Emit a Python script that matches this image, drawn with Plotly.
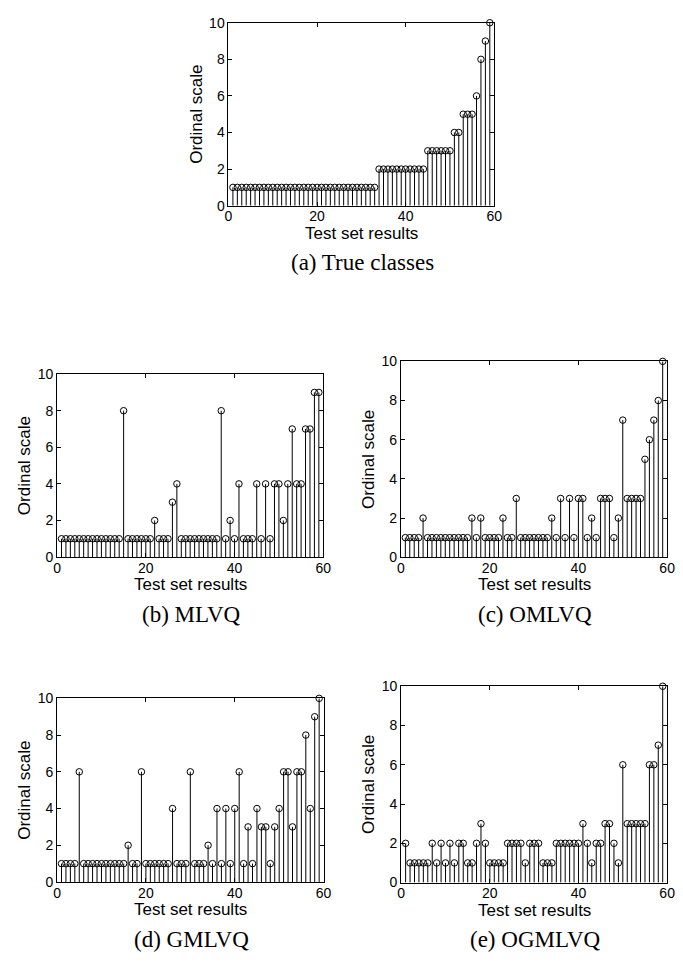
import plotly.graph_objects as go

W, H = 683, 966

x_idx = list(range(1, 60))

true_classes = [1]*33 + [2]*11 + [3]*6 + [4, 4, 5, 5, 5, 6, 8, 9, 10]

mlvq = ([1]*14 + [8] + [1]*6 + [2] + [1]*3 + [3, 4] + [1]*9 + [8] +
        [1, 2, 1, 4, 1, 1, 1, 4, 1, 4, 1, 4, 4, 2, 4, 7, 4, 4, 7, 7, 9, 9])

omlvq = ([1, 1, 1, 1, 2] + [1]*10 + [2, 1, 2] + [1]*4 + [2, 1, 1, 3] + [1]*7 +
         [2, 1, 3, 1, 3, 1, 3, 3, 1, 2, 1, 3, 3, 3, 1, 2, 7, 3, 3, 3, 3, 5, 6, 7, 8, 10])

gmlvq = ([1, 1, 1, 1, 6] + [1]*10 + [2, 1, 1, 6] + [1]*6 + [4, 1, 1, 1, 6, 1, 1, 1, 2, 1,
         4, 1, 4, 1, 4, 6, 1, 3, 1, 4, 3, 3, 1, 3, 4, 6, 6, 3, 6, 6, 8, 4, 9, 10])

ogmlvq = ([2, 1, 1, 1, 1, 1, 2, 1, 2, 1, 2, 1, 2, 2, 1, 1, 2, 3, 2, 1, 1, 1, 1, 2, 2, 2, 2, 1,
          2, 2, 2, 1, 1, 1, 2, 2, 2, 2, 2, 2, 3, 2, 1, 2, 2, 3, 3, 2, 1, 6, 3, 3, 3, 3, 3,
          6, 6, 7, 10])

x_ticks = [0, 20, 40, 60]
y_ticks = [0, 2, 4, 6, 8, 10]
x_title = "Test set results"
y_title = "Ordinal scale"

panels = [
    # (values, caption, left, right, top, bottom)
    (true_classes, "(a) True classes", 228.5, 499, 15, 201),
    (mlvq, "(b) MLVQ", 54, 325, 372.3, 558.3),
    (omlvq, "(c) OMLVQ", 404, 675, 359.3, 558.5),
    (gmlvq, "(d) GMLVQ", 54, 325.3, 702, 888.7),
    (ogmlvq, "(e) OGMLVQ", 404.3, 675, 689.7, 889.3),
]

fig = go.Figure()
sans = "Liberation Sans, Arial, sans-serif"
tick_font = dict(family=sans, size=14, color="black")
title_font = dict(family=sans, size=17, color="black")
cap_font = dict(family="Liberation Serif, Times New Roman, serif", size=23, color="black")

for i, (vals, cap, l, r, t, b) in enumerate(panels):
    n = i + 1
    xa = "x" if n == 1 else f"x{n}"
    ya = "y" if n == 1 else f"y{n}"
    fig.add_trace(go.Scatter(
        x=x_idx, y=vals, mode="markers", xaxis=xa, yaxis=ya,
        marker=dict(symbol="circle-open", size=6.5, color="black", line=dict(width=1, color="black")),
        error_y=dict(type="data", symmetric=False, array=[0]*len(vals), arrayminus=vals,
                     width=0, thickness=1, color="black"),
        showlegend=False, hoverinfo="x+y", cliponaxis=False,
    ))
    axcommon = dict(showline=True, mirror="ticks", linecolor="black", linewidth=1,
                    ticks="inside", ticklen=4, tickcolor="black", showgrid=False,
                    zeroline=False, tickfont=tick_font)
    xkey = "xaxis" if n == 1 else f"xaxis{n}"
    ykey = "yaxis" if n == 1 else f"yaxis{n}"
    fig.update_layout(**{
        xkey: dict(domain=[l / W, r / W], range=[0, 60], tickvals=x_ticks, anchor=ya,
                   ticklabelstandoff=-2, **axcommon),
        ykey: dict(domain=[1 - b / H, 1 - t / H], range=[0, 10], tickvals=y_ticks, anchor=xa,
                   title=dict(text=y_title, font=title_font, standoff=2), **axcommon),
    })
    cx = (l + r) / 2
    fig.add_annotation(text=x_title, x=cx / W, y=1 - (b + 28) / H, xref="paper", yref="paper",
                       showarrow=False, xanchor="center", yanchor="middle", font=title_font)
    fig.add_annotation(text=cap, x=(cx + 1) / W, y=1 - (b + 58) / H, xref="paper", yref="paper",
                       showarrow=False, xanchor="center", yanchor="middle", font=cap_font)

fig.update_layout(width=W, height=H, margin=dict(l=0, r=0, t=0, b=0),
                  plot_bgcolor="white", paper_bgcolor="white")

fig.write_html("out.html")
